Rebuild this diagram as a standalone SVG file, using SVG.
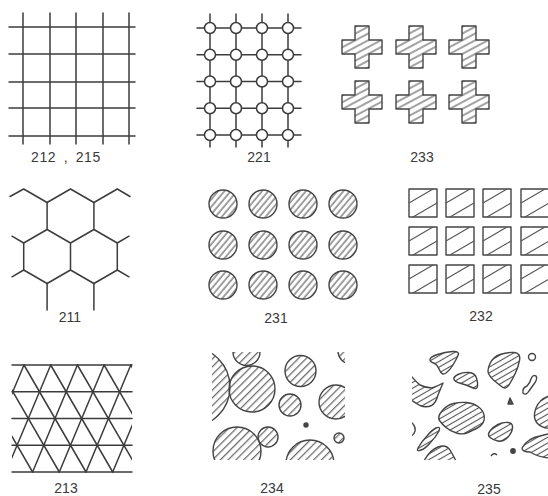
<svg xmlns="http://www.w3.org/2000/svg" xmlns:xlink="http://www.w3.org/1999/xlink" width="548" height="496" viewBox="0 0 548 496">
<style>
.ln{stroke:#3c3c3c;stroke-width:1.5;fill:none;stroke-linecap:round;stroke-linejoin:round}
.sh{stroke:#444;stroke-width:1.4;stroke-linejoin:round}
.hl{stroke:#555;stroke-width:1.1}
.lbl{font-family:"Liberation Sans",Arial,sans-serif;font-size:14px;fill:#3a3a3a;text-anchor:middle}
</style>
<defs>
<pattern id="hx" width="6" height="10" patternUnits="userSpaceOnUse" patternTransform="rotate(62)"><line x1="3" y1="0" x2="3" y2="10" class="hl"/></pattern>
<pattern id="hc" width="4.8" height="10" patternUnits="userSpaceOnUse" patternTransform="rotate(40)"><line x1="2" y1="0" x2="2" y2="10" class="hl"/></pattern>
<pattern id="h34" width="5.5" height="10" patternUnits="userSpaceOnUse" patternTransform="rotate(45)"><line x1="2.5" y1="0" x2="2.5" y2="10" class="hl"/></pattern>
<pattern id="h35" width="5" height="10" patternUnits="userSpaceOnUse" patternTransform="rotate(60)"><line x1="2.5" y1="0" x2="2.5" y2="10" class="hl"/></pattern>
<path id="cross" d="M-7,-21 H7 V-7 H20 V7 H7 V21 H-7 V7 H-20 V-7 H-7 Z"/>
<clipPath id="c213"><rect x="12" y="363" width="120" height="112"/></clipPath>
<clipPath id="c234"><rect x="212" y="352" width="133" height="108"/></clipPath>
<clipPath id="c235"><rect x="412" y="350" width="136" height="110"/></clipPath>
</defs>

<g id="p212">
<g class="ln">
<path d="M23,13V144M50,13V144M76,13V144M103,13V144M129,13V144"/>
<path d="M9,27H135M9,54H135M9,82H135M9,108H135M9,136H135"/>
</g>
<text class="lbl" x="66" y="162" style="word-spacing:3px;letter-spacing:0.6px">212 , 215</text>
</g>

<g id="p221">
<g class="ln">
<path d="M197,28H301M197,54.75H301M197,81.5H301M197,108.25H301M197,135H301"/>
<path d="M210,14V147M236,14V147M262,14V147M288,14V147"/>
</g>
<g class="ln" style="fill:#fff">
<circle cx="210" cy="28" r="5.5"/><circle cx="236" cy="28" r="5.5"/><circle cx="262" cy="28" r="5.5"/><circle cx="288" cy="28" r="5.5"/>
<circle cx="210" cy="54.75" r="5.5"/><circle cx="236" cy="54.75" r="5.5"/><circle cx="262" cy="54.75" r="5.5"/><circle cx="288" cy="54.75" r="5.5"/>
<circle cx="210" cy="81.5" r="5.5"/><circle cx="236" cy="81.5" r="5.5"/><circle cx="262" cy="81.5" r="5.5"/><circle cx="288" cy="81.5" r="5.5"/>
<circle cx="210" cy="108.25" r="5.5"/><circle cx="236" cy="108.25" r="5.5"/><circle cx="262" cy="108.25" r="5.5"/><circle cx="288" cy="108.25" r="5.5"/>
<circle cx="210" cy="135" r="5.5"/><circle cx="236" cy="135" r="5.5"/><circle cx="262" cy="135" r="5.5"/><circle cx="288" cy="135" r="5.5"/>
</g>
<text class="lbl" x="259" y="162">221</text>
</g>

<g id="p233">
<g class="sh" fill="url(#hx)">
<use xlink:href="#cross" x="362" y="47"/>
<use xlink:href="#cross" x="416" y="47"/>
<use xlink:href="#cross" x="469" y="47"/>
<use xlink:href="#cross" x="362" y="102"/>
<use xlink:href="#cross" x="416" y="102"/>
<use xlink:href="#cross" x="469" y="102"/>
</g>
<text class="lbl" x="422" y="162">233</text>
</g>

<g id="p211">
<path class="ln" d="M10,196.5L23.7,189L47.1,202.5L70.5,189L93.9,202.5L117.3,189L130,196.5"/>
<path class="ln" d="M47.1,202.5V229.5L70.5,243L93.9,229.5V202.5M70.5,243V270M47.1,229.5L23.7,243V270L47.1,283.5L70.5,270L93.9,283.5L117.3,270V243L93.9,229.5"/>
<path class="ln" d="M23.7,243L12,236.2M23.7,270L12,276.8M117.3,243L129,236.2M117.3,270L129,276.8M47.1,283.5V310M93.9,283.5V310"/>
<text class="lbl" x="70" y="322">211</text>
</g>

<g id="p231">
<g class="sh" fill="url(#hc)">
<circle cx="223" cy="204" r="14"/><circle cx="263" cy="204" r="14"/><circle cx="303" cy="204" r="14"/><circle cx="343" cy="204" r="14"/>
<circle cx="223" cy="245" r="14"/><circle cx="263" cy="245" r="14"/><circle cx="303" cy="245" r="14"/><circle cx="343" cy="245" r="14"/>
<circle cx="223" cy="285" r="14"/><circle cx="263" cy="285" r="14"/><circle cx="303" cy="285" r="14"/><circle cx="343" cy="285" r="14"/>
</g>
<text class="lbl" x="276" y="323">231</text>
</g>

<g id="p232">
<g class="sh" fill="none">
<rect x="409" y="189" width="28" height="28"/><rect x="446" y="189" width="28" height="28"/><rect x="483" y="189" width="28" height="28"/><rect x="521" y="189" width="28" height="28"/>
<rect x="409" y="227" width="28" height="28"/><rect x="446" y="227" width="28" height="28"/><rect x="483" y="227" width="28" height="28"/><rect x="521" y="227" width="28" height="28"/>
<rect x="409" y="265" width="28" height="28"/><rect x="446" y="265" width="28" height="28"/><rect x="483" y="265" width="28" height="28"/><rect x="521" y="265" width="28" height="28"/>
</g>
<g class="hl">
<path d="M409,203L433,189M413,217L437,203M446,203L470,189M450,217L474,203M483,203L507,189M487,217L511,203M521,203L545,189M525,217L549,203"/>
<path d="M409,241L433,227M413,255L437,241M446,241L470,227M450,255L474,241M483,241L507,227M487,255L511,241M521,241L545,227M525,255L549,241"/>
<path d="M409,279L433,265M413,293L437,279M446,279L470,265M450,293L474,279M483,279L507,265M487,293L511,279M521,279L545,265M525,293L549,279"/>
</g>
<text class="lbl" x="481" y="321">232</text>
</g>

<g id="p213">
<path class="ln" d="M12,365H132M12,391.75H132M12,418.5H132M12,445.25H132M12,472H132"/>
<g clip-path="url(#c213)" class="ln">
<path d="M-56.1,365l62,107M-29.4,365l62,107M-2.7,365l62,107M24,365l62,107M50.7,365l62,107M77.4,365l62,107M104.1,365l62,107M130.8,365l62,107"/>
<path d="M24,365l-44.8,107M50.7,365l-44.8,107M77.4,365l-44.8,107M104.1,365l-44.8,107M130.8,365l-44.8,107M157.5,365l-44.8,107M184.2,365l-44.8,107"/>
</g>
<text class="lbl" x="66" y="493">213</text>
</g>

<g id="p234">
<g clip-path="url(#c234)" class="sh" fill="url(#h34)">
<circle cx="190" cy="387" r="40"/>
<circle cx="246.5" cy="352" r="13.5"/>
<circle cx="252" cy="389" r="23"/>
<circle cx="300.5" cy="371" r="15.5"/>
<circle cx="290" cy="405" r="11"/>
<circle cx="336" cy="402" r="17"/>
<circle cx="351" cy="351" r="13"/>
<circle cx="237" cy="451" r="24"/>
<circle cx="268" cy="437" r="10"/>
<circle cx="310" cy="464" r="24"/>
<circle cx="339" cy="438" r="5"/>
<circle cx="306" cy="425" r="2" fill="#444"/>
</g>
<text class="lbl" x="272" y="493">234</text>
</g>

<g id="p235">
<g clip-path="url(#c235)" class="sh" fill="url(#h35)">
<path d="M430,359.5 Q430,357 437.5,354.5 Q445,352 452.5,351.5 Q460,351 458,355.5 Q456,360 453,365 Q450,370 446,373 Q442,376 439.5,370 Q437,364 433.5,363 Q430,362 430,359.5Z"/>
<path d="M454,379.5 Q453,377 458,374.5 Q463,372 469,372.5 Q475,373 476.5,378 Q478,383 477.5,386.5 Q477,390 472,387.5 Q467,385 461,383.5 Q455,382 454,379.5Z"/>
<path d="M488.5,373.5 Q487,370 490,363.5 Q493,357 500,354.5 Q507,352 514,352.5 Q521,353 519.5,360.5 Q518,368 515,374 Q512,380 509,385 Q506,390 501.5,386.5 Q497,383 493.5,380 Q490,377 488.5,373.5Z"/>
<path d="M408,372 Q414,380 420,385 Q426,388 432,388 Q438,386 443,383 Q440,390 438,395 Q436,403 431.5,405.5 Q426,408 420,405.5 Q414,402 408,398 Z"/>
<path d="M439.5,420.5 Q437,417 442,411 Q447,405 453.5,403.5 Q460,402 466.5,402.5 Q473,403 478,406.5 Q483,410 484,415 Q485,420 482.5,423.5 Q480,427 476.5,428.5 Q473,430 468,432.5 Q463,435 456.5,433 Q450,431 446,427.5 Q442,424 439.5,420.5Z"/>
<path d="M490,437.5 Q487,435 490,431 Q493,427 498,424.5 Q503,422 508,422.5 Q513,423 512.5,428 Q512,433 507.5,437.5 Q503,442 498,441 Q493,440 490,437.5Z"/>
<path d="M552,395 Q540,398 536,408 Q532,418 538,424 Q543,429 552,428 Z"/>
<path d="M522,448 Q528,438 540,436 Q548,434 552,433 L552,458 Q540,458 530,452 Q522,452 522,448Z"/>
<path d="M418,448 Q422,441 427,436 Q432,430 436,428 Q441,426 439,431 Q436,437 430,443 Q425,449 421,450 Q416,452 418,448Z"/>
<path d="M424,461 Q430,450 438,447 Q446,444 450,450 Q453,455 456,461 Z"/>
<path d="M523,393 Q522,388 527,386 Q530,383 531,379 Q533,374 536,376 Q538,379 534,384 Q531,388 529,391 Q526,396 523,393Z" fill="none"/>
<circle cx="532" cy="357" r="3.5" fill="none"/>
<path d="M508,404 L510,398 L513,404 Z" fill="#555"/>
<path d="M411,422 Q416,426 415,431 Q414,435 411,436" fill="none"/>
<path d="M491,456 Q494,452 497,455" fill="none"/>
<circle cx="513" cy="451" r="2.2" fill="#444"/>
</g>
<text class="lbl" x="489" y="494">235</text>
</g>
</svg>
